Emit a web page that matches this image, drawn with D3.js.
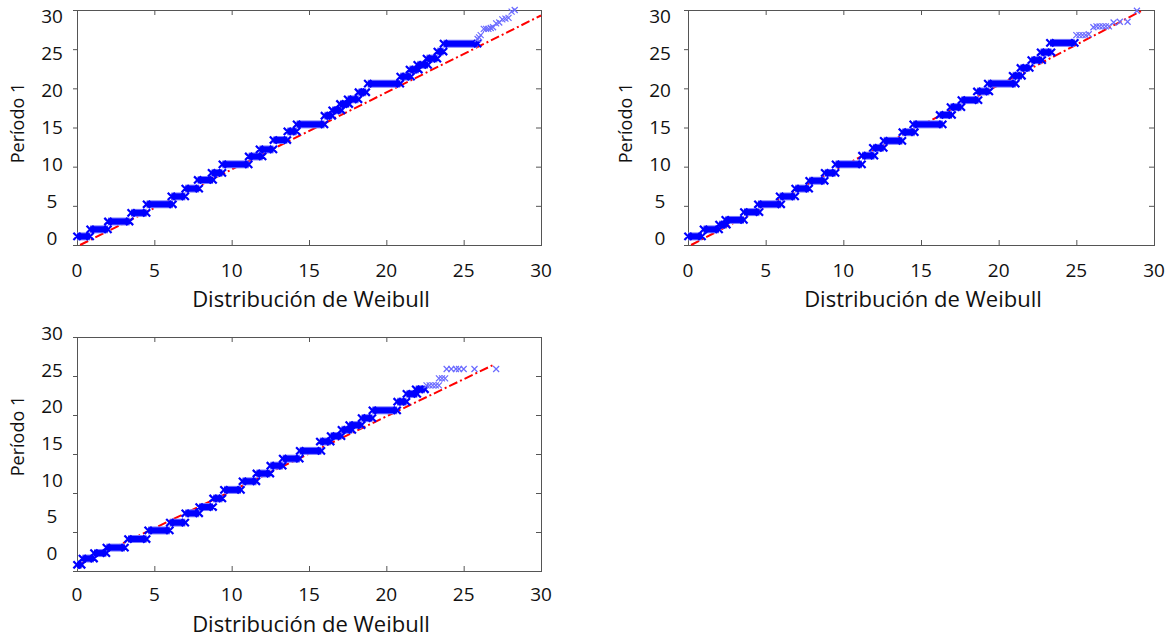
<!DOCTYPE html>
<html>
<head>
<meta charset="utf-8">
<script src="https://cdn.jsdelivr.net/npm/d3@7"></script>
<style>
  body { margin: 0; background: #fff; }
  svg { display: block; font-family: "Open Sans", sans-serif; }
  .frame { fill: none; stroke: #555; stroke-width: 1; }
  .axis line { stroke: #555; }
  .axis path { display: none; }
  .ticklabel { font-size: 19px; fill: #111; }
  .title { fill: #111; }
</style>
</head>
<body>
<svg id="chart" width="1175" height="639"></svg>
<script>
const xTicks = [0, 5, 10, 15, 20, 25, 30];
const yTicks = [0, 5, 10, 15, 20, 25, 30];
const xTitle = 'Distribución de Weibull';
const yTitle = 'Período 1';

// escalones densos: [valor observado, cuantil inicial, cuantil final]
const steps1 = [
  [1.1, 0, 0.85], [2.0, 0.85, 2.0], [3.0, 2.0, 3.4], [4.1, 3.5, 4.5], [5.2, 4.5, 6.2],
  [6.2, 6.1, 7.0], [7.2, 7.0, 7.9], [8.3, 7.8, 8.8], [9.2, 8.7, 9.4], [10.3, 9.4, 11.1],
  [11.3, 11.1, 12.0], [12.2, 11.8, 12.7], [13.4, 12.7, 13.6], [14.5, 13.6, 14.2], [15.4, 14.2, 16.0],
  [16.5, 16.0, 16.5], [17.2, 16.5, 17.1], [18.0, 17.0, 17.6], [18.6, 17.5, 18.2], [19.5, 18.2, 18.7],
  [20.6, 18.8, 20.9], [21.5, 20.9, 21.6], [22.4, 21.5, 22.1], [23.0, 22.0, 22.7], [23.8, 22.6, 23.3],
  [24.7, 23.3, 23.7], [25.7, 23.7, 25.9]
];
// puntos sueltos de la cola: [cuantil, valor]
const tail1 = [
  [25.9, 26.3], [26.0, 26.5], [26.1, 26.8],
  [26.3, 27.6], [26.45, 27.6], [26.6, 27.6], [26.75, 27.7], [26.9, 27.8],
  [27.1, 28.3], [27.3, 28.4], [27.5, 28.8], [27.7, 28.9], [27.9, 29.0],
  [28.1, 29.8], [28.3, 30.0]
];
const fit1 = [[0.2, 0], [30, 29.3]];

const steps2 = [
  [1.1, 0, 0.9], [2.0, 1.0, 2.0], [2.6, 2.0, 2.5], [3.2, 2.4, 3.6], [4.2, 3.6, 4.6],
  [5.2, 4.5, 6.0], [6.2, 5.9, 6.9], [7.2, 6.9, 7.8], [8.2, 7.8, 8.8], [9.2, 8.8, 9.5],
  [10.3, 9.5, 11.2], [11.4, 11.2, 12.0], [12.4, 11.9, 12.6], [13.3, 12.6, 13.8], [14.4, 13.8, 14.6],
  [15.4, 14.5, 16.4], [16.6, 16.2, 17.0], [17.6, 16.9, 17.6], [18.5, 17.6, 18.7], [19.6, 18.6, 19.4],
  [20.6, 19.3, 21.1], [21.6, 20.9, 21.5], [22.6, 21.4, 22.0], [23.6, 22.1, 22.8], [24.6, 22.7, 23.4],
  [25.8, 23.3, 24.9]
];
const tail2 = [
  [25.0, 26.8], [25.2, 26.8], [25.4, 26.8], [25.6, 26.8], [25.8, 26.9],
  [26.1, 27.8], [26.3, 27.9], [26.5, 27.9], [26.7, 27.9], [26.9, 27.9], [27.1, 27.9],
  [27.4, 28.4], [27.8, 28.5], [28.3, 28.5], [28.9, 29.9]
];
const fit2 = [[0.2, 0], [29.3, 30]];

const steps3 = [
  [0.8, 0, 0.3], [1.6, 0.35, 1.1], [2.3, 1.1, 1.9], [3.0, 1.9, 3.1], [4.1, 3.3, 4.5],
  [5.2, 4.6, 6.0], [6.2, 6.0, 7.0], [7.4, 7.0, 7.9], [8.2, 7.9, 8.8], [9.3, 8.8, 9.4],
  [10.4, 9.5, 10.6], [11.5, 10.7, 11.6], [12.5, 11.6, 12.5], [13.5, 12.5, 13.3], [14.4, 13.3, 14.4],
  [15.4, 14.4, 15.8], [16.6, 15.7, 16.4], [17.3, 16.4, 17.1], [18.1, 17.1, 17.8], [18.7, 17.6, 18.4],
  [19.6, 18.4, 19.1], [20.6, 19.1, 20.7], [21.7, 20.7, 21.3], [22.7, 21.3, 22.0], [23.3, 21.9, 22.5]
];
const tail3 = [
  [22.6, 23.8], [22.8, 23.8], [23.0, 23.8], [23.2, 23.8], [23.4, 23.8],
  [23.4, 24.7], [23.6, 24.7], [23.8, 24.7],
  [23.9, 25.9], [24.2, 25.9], [24.5, 25.9], [24.7, 25.9], [25.0, 25.9], [25.7, 25.9], [27.1, 25.9]
];
const fit3 = [[0.3, 1.0], [27.0, 26.5]];

const svg = d3.select('#chart');

function cross(cx, cy, r) {
  return `M${cx - r},${cy - r}L${cx + r},${cy + r}M${cx - r},${cy + r}L${cx + r},${cy - r}`;
}

function panel({left, top, right, bottom, labTop, labBottom, labX, xLabY, yTitleX, yTitleY, xTitleY, steps, tail, fit}) {
  const x = d3.scaleLinear().domain([0, 30]).range([left, right]);
  const y = d3.scaleLinear().domain([0, 30]).range([bottom, top]);
  const yLab = d3.scaleLinear().domain([0, 30]).range([labBottom, labTop]);

  const g = svg.append('g');

  // ticks
  g.append('g').attr('class', 'axis')
    .attr('transform', `translate(0,${bottom})`)
    .call(d3.axisTop(x).tickValues(xTicks).tickSize(5).tickFormat(''));
  g.append('g').attr('class', 'axis')
    .attr('transform', `translate(0,${top})`)
    .call(d3.axisBottom(x).tickValues(xTicks).tickSize(5).tickFormat(''));
  g.append('g').attr('class', 'axis')
    .attr('transform', `translate(${right},0)`)
    .call(d3.axisLeft(y).tickValues(yTicks).tickSize(5).tickFormat(''));
  g.append('g').attr('class', 'axis')
    .attr('transform', `translate(${left},0)`)
    .call(d3.axisLeft(y).tickValues(yTicks).tickSize(4).tickFormat(''));

  g.append('rect')
    .attr('class', 'frame')
    .attr('x', left + 0.5).attr('y', top + 0.5)
    .attr('width', right - left).attr('height', bottom - top);

  // fitted line
  g.append('path')
    .datum(fit)
    .attr('fill', 'none')
    .attr('stroke', '#ff0000')
    .attr('stroke-width', 2)
    .attr('stroke-dasharray', '9,3,2,3')
    .attr('d', d3.line().x(d => x(d[0])).y(d => y(d[1])));

  // dense steps
  const band = g.append('g');
  band.selectAll('line.halo')
    .data(steps)
    .join('line')
      .attr('class', 'halo')
      .attr('x1', d => x(d[1])).attr('x2', d => x(d[2]))
      .attr('y1', d => y(d[0])).attr('y2', d => y(d[0]))
      .attr('stroke', '#7a7aff').attr('stroke-width', 8);
  band.selectAll('path.ends')
    .data(steps)
    .join('path')
      .attr('class', 'ends')
      .attr('d', d => cross(x(d[1]), y(d[0]), 3.6) + cross(x(d[2]), y(d[0]), 3.6))
      .attr('fill', 'none')
      .attr('stroke', '#0000ff').attr('stroke-width', 2.2);
  band.selectAll('line.core')
    .data(steps)
    .join('line')
      .attr('class', 'core')
      .attr('x1', d => x(d[1])).attr('x2', d => x(d[2]))
      .attr('y1', d => y(d[0])).attr('y2', d => y(d[0]))
      .attr('stroke', '#0000ff').attr('stroke-width', 6);

  // sparse tail
  g.append('g').selectAll('path')
    .data(tail)
    .join('path')
      .attr('d', d => cross(x(d[0]), y(d[1]), 3))
      .attr('fill', 'none')
      .attr('stroke', '#6b6bff').attr('stroke-width', 1.2);

  // labels
  g.selectAll('text.xl')
    .data(xTicks)
    .join('text')
      .attr('class', 'ticklabel xl')
      .attr('x', d => x(d)).attr('y', xLabY)
      .attr('text-anchor', 'middle').attr('dominant-baseline', 'central')
      .text(d => d);
  g.selectAll('text.yl')
    .data(yTicks)
    .join('text')
      .attr('class', 'ticklabel yl')
      .attr('x', labX).attr('y', d => yLab(d))
      .attr('text-anchor', 'middle').attr('dominant-baseline', 'central')
      .text(d => d);

  g.append('text')
    .attr('class', 'title')
    .attr('x', (left + right) / 2 + 2).attr('y', xTitleY)
    .attr('text-anchor', 'middle').attr('dominant-baseline', 'central')
    .style('font-size', '22px')
    .text(xTitle);
  g.append('text')
    .attr('class', 'title')
    .attr('transform', `translate(${yTitleX},${yTitleY}) rotate(-90)`)
    .attr('text-anchor', 'middle').attr('dominant-baseline', 'central')
    .style('font-size', '18px')
    .text(yTitle);
}

panel({left: 77, top: 10, right: 541, bottom: 245, labTop: 16, labBottom: 238, labX: 52, xLabY: 270,
  yTitleX: 17, yTitleY: 123, xTitleY: 298, steps: steps1, tail: tail1, fit: fit1});
panel({left: 688, top: 10, right: 1154, bottom: 245, labTop: 16, labBottom: 238, labX: 660, xLabY: 270,
  yTitleX: 625, yTitleY: 123, xTitleY: 298, steps: steps2, tail: tail2, fit: fit2});
panel({left: 77, top: 337, right: 541, bottom: 571, labTop: 333, labBottom: 553, labX: 52, xLabY: 594,
  yTitleX: 17, yTitleY: 436, xTitleY: 623, steps: steps3, tail: tail3, fit: fit3});
</script>
</body>
</html>
